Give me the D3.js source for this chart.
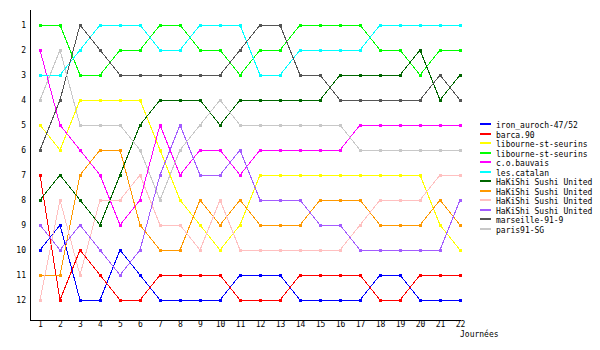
<!DOCTYPE html>
<html>
<head>
<meta charset="utf-8">
<script src="https://cdn.jsdelivr.net/npm/d3@7"></script>
<style>
    body { margin: 0; background: #fff; }
    svg { display: block; }
    text { font-family: "DejaVu Sans Mono", monospace; font-size: 8px; fill: #000; }
    .serie path { fill: none; stroke-width: 1; shape-rendering: crispEdges; }
</style>
</head>
<body>
<div id="chart"></div>
<script>
'use strict';

// journées 1..22
var journees = d3.range(1, 23);
var rangs = d3.range(1, 13);

var teams = ['iron_auroch-47/52', 'barca.90', 'libourne-st-seurins', 'libourne-st-seurins',
    'c.o.bauvais', 'les.catalan', 'HaKiShi Sushi United', 'HaKiShi Sushi United',
    'HaKiShi Sushi United', 'HaKiShi Sushi United', 'marseille-91-9', 'paris91-SG'];

var colors = ['#0000ff', '#ff0000', '#ffff00', '#00ff00', '#ff00ff', '#00ffff',
    '#006600', '#ff9900', '#ffc0c0', '#a35cff', '#555555', '#c8c8c8'];

// classement par journée
var ironAuroch = [10, 9, 12, 12, 10, 11, 12, 12, 12, 12, 11, 11, 11, 12, 12, 12, 12, 11, 11, 12, 12, 12];
var barca = [7, 12, 10, 11, 12, 12, 11, 11, 11, 11, 12, 12, 12, 11, 11, 11, 11, 12, 12, 11, 11, 11];
var libourne1 = [5, 6, 4, 4, 4, 4, 6, 8, 9, 10, 9, 7, 7, 7, 7, 7, 7, 7, 7, 7, 9, 10];
var libourne2 = [1, 1, 3, 3, 2, 2, 1, 1, 2, 2, 3, 2, 2, 1, 1, 1, 1, 2, 2, 3, 2, 2];
var bauvais = [2, 5, 6, 7, 9, 8, 5, 7, 6, 6, 7, 6, 6, 6, 6, 6, 5, 5, 5, 5, 5, 5];
var catalan = [3, 3, 2, 1, 1, 1, 2, 2, 1, 1, 1, 3, 3, 2, 2, 2, 2, 1, 1, 1, 1, 1];
var hakishi1 = [8, 7, 8, 9, 7, 5, 4, 4, 4, 5, 4, 4, 4, 4, 4, 3, 3, 3, 3, 2, 4, 3];
var hakishi2 = [11, 11, 7, 6, 6, 9, 10, 10, 8, 9, 8, 9, 9, 9, 8, 8, 8, 9, 9, 9, 8, 9];
var hakishi3 = [12, 8, 11, 8, 8, 7, 9, 9, 10, 8, 10, 10, 10, 10, 10, 10, 9, 8, 8, 8, 7, 7];
var hakishi4 = [9, 10, 9, 10, 11, 10, 7, 5, 7, 7, 6, 8, 8, 8, 9, 9, 10, 10, 10, 10, 10, 8];
var marseille = [6, 4, 1, 2, 3, 3, 3, 3, 3, 3, 2, 1, 1, 3, 3, 4, 4, 4, 4, 4, 3, 4];
var paris = [4, 2, 5, 5, 5, 6, 8, 6, 5, 4, 5, 5, 5, 5, 5, 5, 6, 6, 6, 6, 6, 6];

var series = [ironAuroch, barca, libourne1, libourne2, bauvais, catalan,
    hakishi1, hakishi2, hakishi3, hakishi4, marseille, paris];

var width = 600, height = 350;

var svg = d3.select('#chart')
    .append('svg')
    .attr('width', width)
    .attr('height', height);

var x = d3.scaleLinear().domain([1, 22]).range([40, 460]);
var y = d3.scaleLinear().domain([1, 12]).range([25, 300]);

// axes (lines only, no ticks)
svg.append('line')
    .attr('x1', 30.5).attr('x2', 30.5)
    .attr('y1', 10).attr('y2', 320)
    .attr('stroke', '#000');
svg.append('line')
    .attr('x1', 30).attr('x2', 461)
    .attr('y1', 320.5).attr('y2', 320.5)
    .attr('stroke', '#000');

var yAxis = svg.append('g')
    .attr('transform', 'translate(26,0)')
    .call(d3.axisLeft(y).tickValues(rangs).tickSize(0).tickPadding(0).tickFormat(d3.format('d')));
yAxis.select('.domain').remove();
yAxis.selectAll('text')
    .attr('dy', '0.35em')
    .style('font-family', '"DejaVu Sans Mono", monospace')
    .style('font-size', '8px');

var xAxis = svg.append('g')
    .attr('transform', 'translate(0,320)')
    .call(d3.axisBottom(x).tickValues(journees).tickSize(0).tickPadding(1).tickFormat(d3.format('d')));
xAxis.select('.domain').remove();
xAxis.selectAll('text')
    .style('font-family', '"DejaVu Sans Mono", monospace')
    .style('font-size', '8px');

svg.append('text')
    .attr('x', 460)
    .attr('y', 337)
    .text('Journées');

var line = d3.line()
    .x(function (d, i) { return x(journees[i]); })
    .y(function (d) { return y(d); });

var gSel = svg.selectAll('g.serie')
    .data(series)
    .enter()
    .append('g')
    .attr('class', 'serie');

gSel.append('path')
    .attr('stroke', function (d, i) { return colors[i]; })
    .attr('d', line);

gSel.selectAll('rect.point')
    .data(function (d, i) {
        return d.map(function (v, j) { return {v: v, j: journees[j], c: colors[i]}; });
    })
    .enter()
    .append('rect')
    .attr('class', 'point')
    .attr('x', function (p) { return Math.round(x(p.j)) - 1; })
    .attr('y', function (p) { return Math.round(y(p.v)) - 1; })
    .attr('width', 3)
    .attr('height', 3)
    .attr('fill', function (p) { return p.c; });

// legend
var legend = svg.selectAll('g.legend')
    .data(teams)
    .enter()
    .append('g')
    .attr('class', 'legend')
    .attr('transform', function (d, i) { return 'translate(480,' + Math.round(124 + i * 9.5) + ')'; });

legend.append('rect')
    .attr('x', 0)
    .attr('y', -1)
    .attr('width', 11)
    .attr('height', 2)
    .attr('fill', function (d, i) { return colors[i]; });

legend.append('text')
    .attr('x', 16)
    .attr('y', 4)
    .text(function (d) { return d; });
</script>
</body>
</html>
